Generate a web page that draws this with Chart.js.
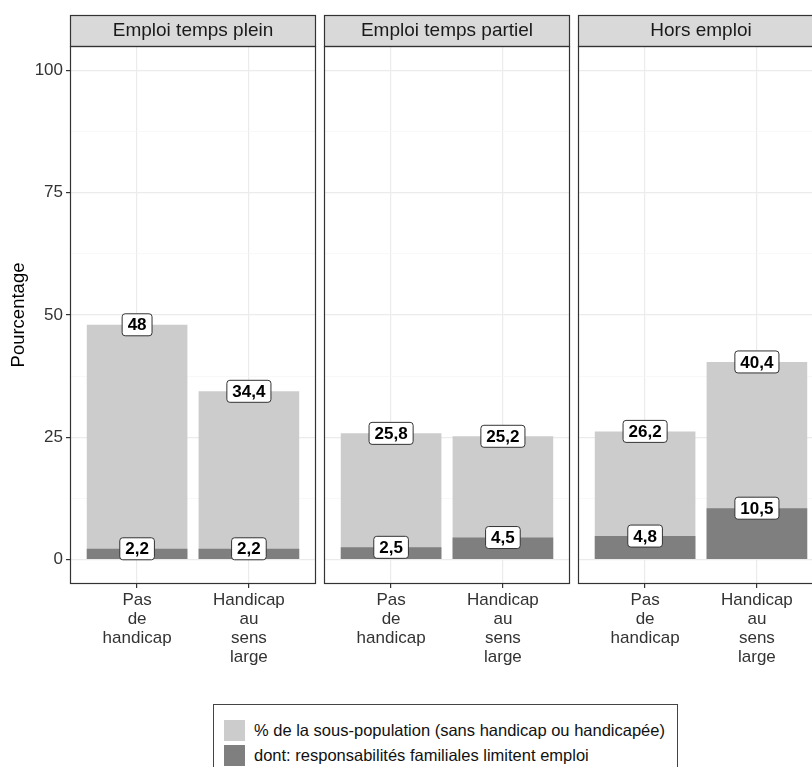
<!DOCTYPE html>
<html>
<head>
<meta charset="utf-8">
<script src="https://cdn.jsdelivr.net/npm/chart.js@4.4.0/dist/chart.umd.min.js"></script>
<style>
  body { margin: 0; background: #fff; overflow: hidden; font-family: "Liberation Sans", Arial, sans-serif; }
  #wrap { position: relative; width: 812px; height: 767px; overflow: hidden; }
  #wrap canvas { position: absolute; top: 0; }
  #legend { position: absolute; left: 213px; top: 704px; width: 465px; height: 90px; border: 1px solid #444; box-sizing: border-box; }
  #legend .row { position: absolute; left: 10px; height: 21px; line-height: 21px; font-size: 16.5px; color: #111; white-space: nowrap; }
  #legend .key { display: inline-block; width: 21px; height: 21px; vertical-align: top; margin-right: 9px; }
</style>
</head>
<body>
<div id="wrap">
  <canvas id="c0" width="320" height="680" style="left:0px"></canvas>
  <canvas id="c1" width="254" height="680" style="left:320px"></canvas>
  <canvas id="c2" width="254" height="680" style="left:574px"></canvas>
  <div id="legend"></div>
</div>
<script>
// facettes
const panneaux = ["Emploi temps plein", "Emploi temps partiel", "Hors emploi"];
// groupes (axe x), une ligne par element
const groupes = [["Pas", "de", "handicap"], ["Handicap", "au", "sens", "large"]];
// % de la sous-population, par facette
const sousPopulation = [[48, 34.4], [25.8, 25.2], [26.2, 40.4]];
// dont: responsabilites familiales limitent emploi
const responsabilites = [[2.2, 2.2], [2.5, 4.5], [4.8, 10.5]];
const yTicks = [0, 12.5, 25, 37.5, 50, 62.5, 75, 87.5, 100];
const series = ["% de la sous-population (sans handicap ou handicapée)", "dont: responsabilités familiales limitent emploi"];
const couleurs = ["#cccccc", "#7f7f7f"];

// bandeau + cadre du panneau
const decor = {
  id: 'decor',
  afterDraw(chart) {
    const ctx = chart.ctx;
    const a = chart.chartArea;
    ctx.save();
    ctx.fillStyle = '#d9d9d9';
    ctx.fillRect(a.left, a.top - 31, a.right - a.left, 31);
    ctx.strokeStyle = '#333';
    ctx.lineWidth = 1.2;
    ctx.strokeRect(a.left + 0.5, a.top - 31 + 0.5, a.right - a.left - 1, 31);
    ctx.strokeRect(a.left + 0.5, a.top + 0.5, a.right - a.left - 1, a.bottom - a.top - 1);
    ctx.fillStyle = '#1a1a1a';
    ctx.font = '19px "Liberation Sans", Arial, sans-serif';
    ctx.textAlign = 'center';
    ctx.textBaseline = 'middle';
    ctx.fillText(chart.options.plugins.decor.titre, (a.left + a.right) / 2, a.top - 15);
    ctx.restore();
  }
};

// etiquettes blanches sur le haut des barres
const etiquettes = {
  id: 'etiquettes',
  afterDatasetsDraw(chart) {
    const ctx = chart.ctx;
    ctx.save();
    ctx.font = 'bold 17px "Liberation Sans", Arial, sans-serif';
    ctx.textAlign = 'center';
    ctx.textBaseline = 'middle';
    chart.data.datasets.forEach((ds, di) => {
      const meta = chart.getDatasetMeta(di);
      meta.data.forEach((bar, i) => {
        const txt = String(ds.data[i].y).replace('.', ',');
        const w = ctx.measureText(txt).width + 11;
        const h = 22;
        ctx.beginPath();
        ctx.roundRect(bar.x - w / 2, bar.y - h / 2, w, h, 3);
        ctx.fillStyle = '#fff';
        ctx.fill();
        ctx.strokeStyle = '#333';
        ctx.lineWidth = 1;
        ctx.stroke();
        ctx.fillStyle = '#000';
        ctx.fillText(txt, bar.x, bar.y + 1);
      });
    });
    ctx.restore();
  }
};

function faireGraphique(p) {
  const avecY = p === 0;
  const major = c => c.tick && c.tick.value % 25 === 0;
  return new Chart(document.getElementById('c' + p), {
    type: 'bar',
    data: {
      datasets: [{
        label: series[1],
        data: responsabilites[p].map((v, i) => ({x: i, y: v})),
        backgroundColor: couleurs[1],
        order: 0
      }, {
        label: series[0],
        data: sousPopulation[p].map((v, i) => ({x: i, y: v})),
        backgroundColor: couleurs[0],
        order: 1
      }]
    },
    options: {
      responsive: false,
      animation: false,
      devicePixelRatio: 1,
      datasets: { bar: { grouped: false, barPercentage: 0.9, categoryPercentage: 1 } },
      layout: { padding: { left: avecY ? 0 : 4, right: 4, top: 46, bottom: 0 } },
      plugins: {
        legend: { display: false },
        tooltip: { enabled: false },
        decor: { titre: panneaux[p] }
      },
      scales: {
        x: {
          type: 'linear', min: -0.6, max: 1.6, offset: false,
          afterBuildTicks: s => { s.ticks = groupes.map((g, i) => ({value: i})); },
          afterFit: s => { s.height = 96; },
          border: { display: false },
          grid: { offset: false, color: '#ebebeb', lineWidth: 1.2, tickColor: '#333', tickLength: 4 },
          ticks: {
            autoSkip: false, maxRotation: 0, padding: 3, color: '#333',
            font: { size: 17, family: '"Liberation Sans", Arial, sans-serif', lineHeight: 1.12 },
            callback: v => groupes[v]
          }
        },
        y: {
          min: -5, max: 105,
          afterBuildTicks: s => { s.ticks = yTicks.map(v => ({value: v})); },
          afterFit: s => { s.width = avecY ? 70 : 0; },
          border: { display: false },
          grid: {
            color: c => major(c) ? '#ebebeb' : '#f5f5f5',
            lineWidth: c => major(c) ? 1.2 : 0.7,
            tickColor: c => major(c) ? '#333' : 'rgba(0,0,0,0)',
            tickLength: 4,
            drawTicks: avecY
          },
          ticks: {
            display: avecY, padding: 3, color: '#333',
            font: { size: 17, family: '"Liberation Sans", Arial, sans-serif' },
            callback: v => v % 25 === 0 ? v : ''
          },
          title: {
            display: avecY, text: 'Pourcentage', color: '#000',
            font: { size: 18.5, family: '"Liberation Sans", Arial, sans-serif' },
            padding: { top: 8, bottom: 0 }
          }
        }
      }
    },
    plugins: [decor, etiquettes]
  });
}

panneaux.forEach((t, p) => faireGraphique(p));

// legende commune
const leg = document.getElementById('legend');
series.forEach((s, i) => {
  const row = document.createElement('div');
  row.className = 'row';
  row.style.top = (15 + i * 25) + 'px';
  row.innerHTML = '<span class="key" style="background:' + couleurs[i] + '"></span>' + s;
  leg.appendChild(row);
});
</script>
</body>
</html>
